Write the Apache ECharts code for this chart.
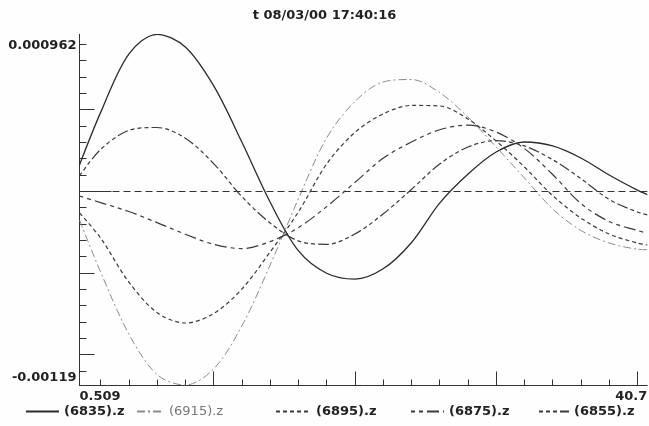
<!DOCTYPE html>
<html><head><meta charset="utf-8">
<script src="https://cdn.jsdelivr.net/npm/echarts@6/dist/echarts.min.js"></script>
<style>html,body{margin:0;padding:0;background:#fefefe}#c{width:649px;height:426px}</style>
</head><body><div id="c"></div>
<script>
const titleText = 't 08/03/00 17:40:16';
const seriesNames = ['(6835).z', '(6915).z', '(6895).z', '(6875).z', '(6855).z'];
const xValues = [0.509, 2, 4, 6, 8, 10, 12, 14, 16, 18, 20, 22, 24, 26, 28, 30, 32, 34, 36, 38, 40, 40.7];
const s6835 = [1.61e-4, 4.82e-4, 8.41e-4, 9.62e-4, 8.84e-4, 6.47e-4, 3.02e-4, -0.66e-4, -3.64e-4, -5.02e-4, -5.38e-4, -4.75e-4, -3.15e-4, -0.72e-4, 1.05e-4, 2.41e-4, 3.02e-4, 2.78e-4, 2.04e-4, 1.00e-4, 0.07e-4, -0.20e-4];
const s6855 = [0.94e-4, 2.56e-4, 3.73e-4, 3.91e-4, 3.25e-4, 1.70e-4, -0.32e-4, -1.94e-4, -3.04e-4, -3.25e-4, -2.62e-4, -1.39e-4, 0.11e-4, 1.67e-4, 2.71e-4, 3.11e-4, 2.78e-4, 1.94e-4, 0.78e-4, -0.50e-4, -1.27e-4, -1.45e-4];
const s6875 = [-0.29e-4, -0.69e-4, -1.24e-4, -1.92e-4, -2.63e-4, -3.25e-4, -3.51e-4, -3.08e-4, -2.23e-4, -0.94e-4, 0.54e-4, 2.02e-4, 3.02e-4, 3.77e-4, 4.06e-4, 3.63e-4, 2.62e-4, 1.03e-4, -0.75e-4, -1.85e-4, -2.40e-4, -2.56e-4];
const s6895 = [-1.33e-4, -2.86e-4, -5.56e-4, -7.43e-4, -8.07e-4, -7.49e-4, -5.99e-4, -3.72e-4, -1.27e-4, 1.67e-4, 3.60e-4, 4.74e-4, 5.26e-4, 5.23e-4, 4.43e-4, 3.08e-4, 1.49e-4, -0.26e-4, -1.64e-4, -2.62e-4, -3.17e-4, -3.29e-4];
const s6915 = [-1.76e-4, -4.94e-4, -8.74e-4, -11.23e-4, -11.87e-4, -10.89e-4, -8.25e-4, -4.52e-4, -0.47e-4, 3.27e-4, 5.50e-4, 6.70e-4, 6.85e-4, 6.05e-4, 4.55e-4, 2.72e-4, 0.82e-4, -1.08e-4, -2.40e-4, -3.17e-4, -3.55e-4, -3.58e-4];
const yMin = -0.00119, yMax = 0.000962;
const xMin = 0.509, xMax = 40.7;
const yLabels = ['0.000962', '-0.00119'];
const xLabels = ['0.509', '40.7'];
const yTicks = [-0.0011, -0.001, -0.0009, -0.0008, -0.0007, -0.0006, -0.0005, -0.0004, -0.0003, -0.0002, -0.0001, 0, 0.0001, 0.0002, 0.0003, 0.0004, 0.0005, 0.0006, 0.0007, 0.0008, 0.0009];
const yMajorTicks = [-0.001, -0.0005, 0, 0.0005];
const xTicks = [2, 4, 6, 8, 10, 12, 14, 16, 18, 20, 22, 24, 26, 28, 30, 32, 34, 36, 38, 40];
const xMajorTicks = [10, 20, 30, 40];

const FONT = 'DejaVu Sans';
const AX = '#333';
function pairs(ys) { return xValues.map((x, i) => [x, ys[i]]); }

const styles = {
  '(6835).z': { color: '#2a2a2a', width: 1.3, type: 'solid' },
  '(6915).z': { color: '#8c8c8c', width: 1, type: [8, 3, 2, 3] },
  '(6895).z': { color: '#3a3a3a', width: 1.2, type: [4, 3] },
  '(6875).z': { color: '#3a3a3a', width: 1.2, type: [4, 4, 4, 4, 12, 4] },
  '(6855).z': { color: '#3a3a3a', width: 1.2, type: [4, 3, 4, 3, 4, 3, 11, 3] }
};
const dataMap = { '(6835).z': s6835, '(6915).z': s6915, '(6895).z': s6895, '(6875).z': s6875, '(6855).z': s6855 };

const series = seriesNames.map((n, i) => {
  const s = {
    name: n, type: 'line', data: pairs(dataMap[n]), symbol: 'none', smooth: 0.33,
    xAxisIndex: 0, yAxisIndex: 0, lineStyle: styles[n], itemStyle: { color: styles[n].color },
    emphasis: { disabled: true }, silent: true
  };
  if (i === 0) {
    s.markLine = { silent: true, symbol: 'none', label: { show: false },
      lineStyle: { color: '#333', type: [7, 4], width: 1 }, emphasis: { disabled: true },
      data: [{ yAxis: 0 }] };
  }
  return s;
});

const legendPos = [
  { left: 25, w: 33 }, { left: 136, w: 27 }, { left: 275, w: 35 }, { left: 410, w: 33 }, { left: 538, w: 30 }
];
const legends = seriesNames.map((n, i) => ({
  data: [n], left: legendPos[i].left, top: 405, padding: 0, itemWidth: legendPos[i].w, itemHeight: 10,
  selectedMode: false,
  itemStyle: { opacity: 0 },
  lineStyle: { opacity: 1 },
  textStyle: { fontFamily: FONT, fontSize: 13, fontWeight: n === '(6915).z' ? 'normal' : 'bold',
    color: n === '(6915).z' ? '#777' : '#222' }
}));

const labelStyle = { fontFamily: FONT, fontSize: 13, fontWeight: 'bold', color: '#222' };

const option = {
  backgroundColor: '#fefefe',
  animation: false,
  title: { text: titleText, left: 'center', top: 9, padding: 0,
    textStyle: { fontFamily: FONT, fontSize: 13, fontWeight: 'bold', color: '#222' } },
  legend: legends,
  grid: { left: 79.5, right: 1.7, top: 34.3, bottom: 40.5, containLabel: false, outerBoundsMode: 'none' },
  xAxis: [
    { type: 'value', min: xMin, max: xMax, position: 'bottom',
      axisLine: { show: true, onZero: false, lineStyle: { color: AX, width: 1 } },
      axisTick: { show: true, inside: true, length: 6, customValues: xTicks, lineStyle: { color: AX } },
      axisLabel: Object.assign({ show: true, customValues: [xMin], align: 'left', margin: 5,
        formatter: () => xLabels[0] }, labelStyle),
      splitLine: { show: false } },
    { type: 'value', min: xMin, max: xMax, position: 'bottom',
      axisLine: { show: false, onZero: false },
      axisTick: { show: true, inside: true, length: 14, customValues: xMajorTicks, lineStyle: { color: AX } },
      axisLabel: Object.assign({ show: true, customValues: [xMax], align: 'right', margin: 5,
        formatter: () => xLabels[1] }, labelStyle),
      splitLine: { show: false } }
  ],
  yAxis: [
    { type: 'value', min: yMin, max: yMax, position: 'left',
      axisLine: { show: true, onZero: false, lineStyle: { color: AX, width: 1 } },
      axisTick: { show: true, inside: true, length: 7, customValues: yTicks, lineStyle: { color: AX } },
      axisLabel: Object.assign({ show: true, customValues: [yMax], verticalAlign: 'top', margin: 3,
        padding: [5, 0, 0, 0], formatter: () => yLabels[0] }, labelStyle),
      splitLine: { show: false } },
    { type: 'value', min: yMin, max: yMax, position: 'left',
      axisLine: { show: false, onZero: false },
      axisTick: { show: true, inside: true, length: 15, customValues: yMajorTicks, lineStyle: { color: AX } },
      axisLabel: Object.assign({ show: true, customValues: [yMin], verticalAlign: 'bottom', margin: 3,
        padding: [0, 0, 1, 0], formatter: () => yLabels[1] }, labelStyle),
      splitLine: { show: false } },
    { type: 'value', min: yMin, max: yMax, position: 'left',
      axisLine: { show: false, onZero: false },
      axisTick: { show: true, inside: true, length: 32, customValues: [0], lineStyle: { color: AX } },
      axisLabel: { show: false }, splitLine: { show: false } }
  ],
  series: series
};
const chart = echarts.init(document.getElementById('c'), null, { renderer: 'canvas' });
chart.setOption(option);
</script></body></html>
